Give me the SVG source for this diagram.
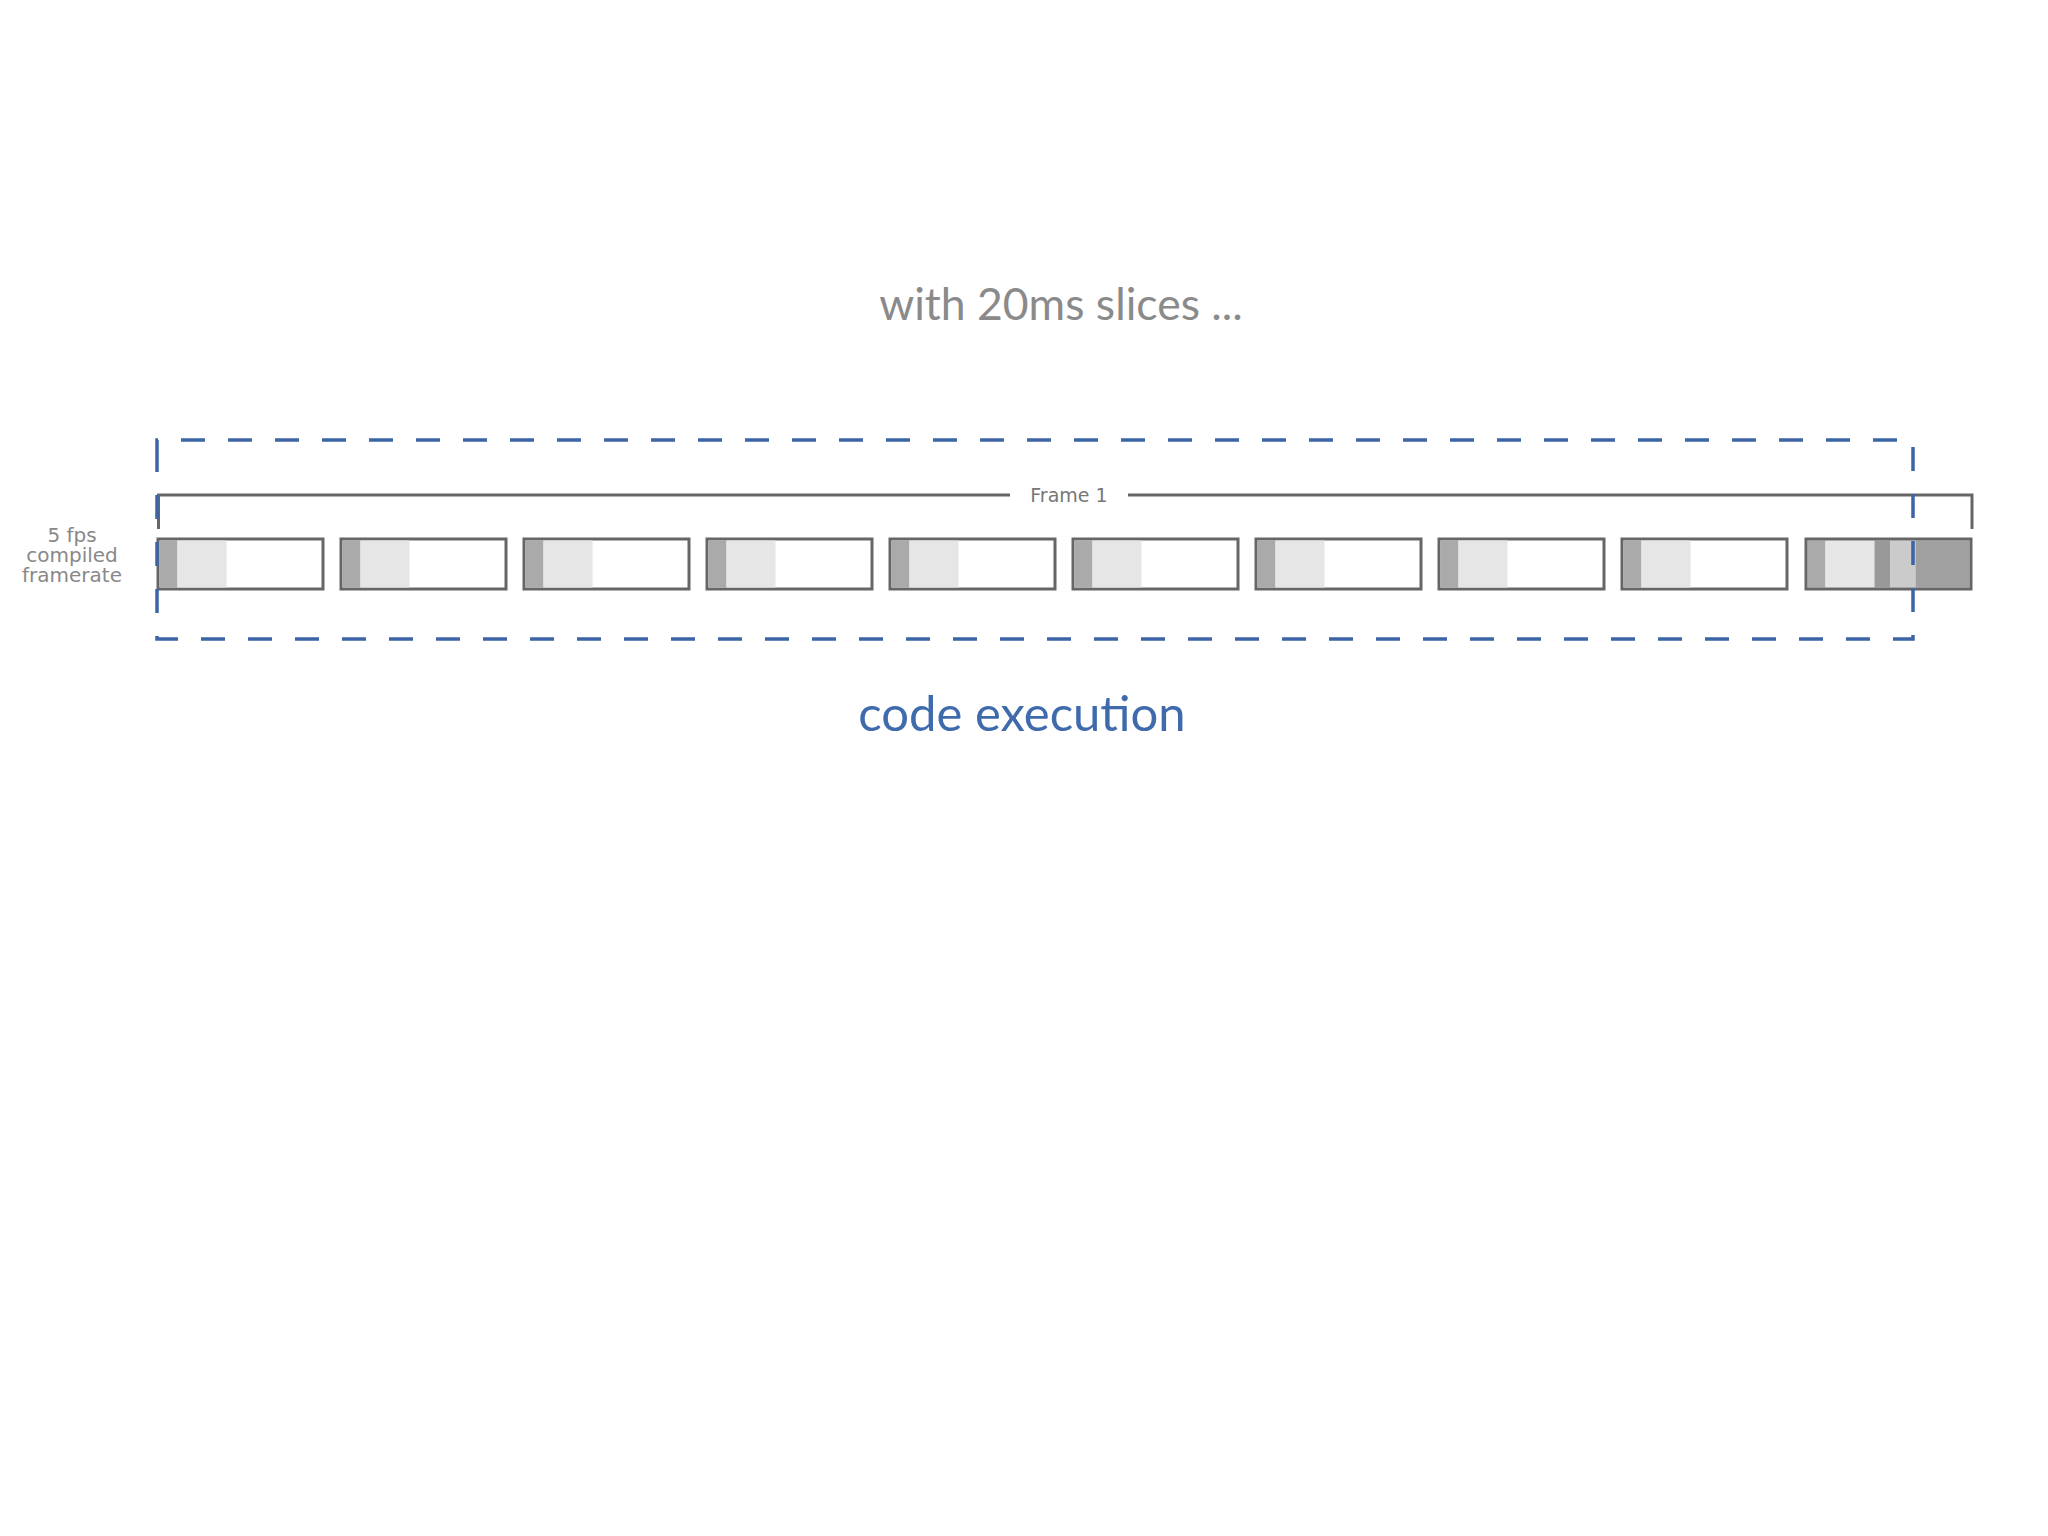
<svg xmlns="http://www.w3.org/2000/svg" width="2048" height="1536" viewBox="0 0 2048 1536">
<style>
.box{fill:#ffffff;stroke:#666666;stroke-width:3}
.frame{fill:none;stroke:#666666;stroke-width:3}
.d{fill:#aaaaaa}
.l{fill:#e6e6e6}
.lbl{font-family:"DejaVu Sans",sans-serif;font-size:20px;fill:#888888;text-anchor:middle}
</style>
<rect width="2048" height="1536" fill="#ffffff"/>
<text x="1061" y="320" font-family="Lato, 'Open Sans', sans-serif" font-size="44.5" fill="#8a8a8a" text-anchor="middle">with 20ms slices ...</text>
<g id="bracket" fill="none" stroke="#666666" stroke-width="3">
<path d="M158.5 529 V495 H1010 M1128 495 H1972 V529"/>
<text x="1069" y="502" font-family="'DejaVu Sans',sans-serif" font-size="19" fill="#777777" stroke="none" text-anchor="middle">Frame 1</text>
</g>
<g id="label">
<text class="lbl" x="72" y="542">5 fps</text>
<text class="lbl" x="72" y="562">compiled</text>
<text class="lbl" x="72" y="582">framerate</text>
</g>
<g id="slices">
<g id="s1"><rect class="box" x="158" y="539" width="165" height="50"/><rect class="d" x="159.5" y="540.5" width="18" height="47"/><rect class="l" x="177.5" y="540.5" width="49" height="47"/></g>
<g id="s2"><rect class="box" x="341" y="539" width="165" height="50"/><rect class="d" x="342.5" y="540.5" width="18" height="47"/><rect class="l" x="360.5" y="540.5" width="49" height="47"/></g>
<g id="s3"><rect class="box" x="524" y="539" width="165" height="50"/><rect class="d" x="525.5" y="540.5" width="18" height="47"/><rect class="l" x="543.5" y="540.5" width="49" height="47"/></g>
<g id="s4"><rect class="box" x="707" y="539" width="165" height="50"/><rect class="d" x="708.5" y="540.5" width="18" height="47"/><rect class="l" x="726.5" y="540.5" width="49" height="47"/></g>
<g id="s5"><rect class="box" x="890" y="539" width="165" height="50"/><rect class="d" x="891.5" y="540.5" width="18" height="47"/><rect class="l" x="909.5" y="540.5" width="49" height="47"/></g>
<g id="s6"><rect class="box" x="1073" y="539" width="165" height="50"/><rect class="d" x="1074.5" y="540.5" width="18" height="47"/><rect class="l" x="1092.5" y="540.5" width="49" height="47"/></g>
<g id="s7"><rect class="box" x="1256" y="539" width="165" height="50"/><rect class="d" x="1257.5" y="540.5" width="18" height="47"/><rect class="l" x="1275.5" y="540.5" width="49" height="47"/></g>
<g id="s8"><rect class="box" x="1439" y="539" width="165" height="50"/><rect class="d" x="1440.5" y="540.5" width="18" height="47"/><rect class="l" x="1458.5" y="540.5" width="49" height="47"/></g>
<g id="s9"><rect class="box" x="1622" y="539" width="165" height="50"/><rect class="d" x="1623.5" y="540.5" width="18" height="47"/><rect class="l" x="1641.5" y="540.5" width="49" height="47"/></g>
<g id="s10"><rect class="d" x="1807.5" y="540.5" width="18" height="47"/><rect class="l" x="1825.5" y="540.5" width="49" height="47"/><rect x="1874.5" y="540.5" width="16" height="47" fill="#999999"/><rect x="1890.5" y="540.5" width="25" height="47" fill="#cbcbcb"/><rect x="1915.5" y="540.5" width="54" height="47" fill="#a0a0a0"/><rect class="frame" x="1806" y="539" width="165" height="50"/></g>
</g>
<g id="execution">
<path d="M157 463 V440 H1913 V639 H157 Z" fill="none" stroke="#3e64a8" stroke-width="3.5" stroke-dasharray="24 23"/>
<text x="1022" y="731" font-family="Lato, 'Open Sans', sans-serif" font-size="49" fill="#3f6bad" text-anchor="middle">code execution</text>
</g>
</svg>
